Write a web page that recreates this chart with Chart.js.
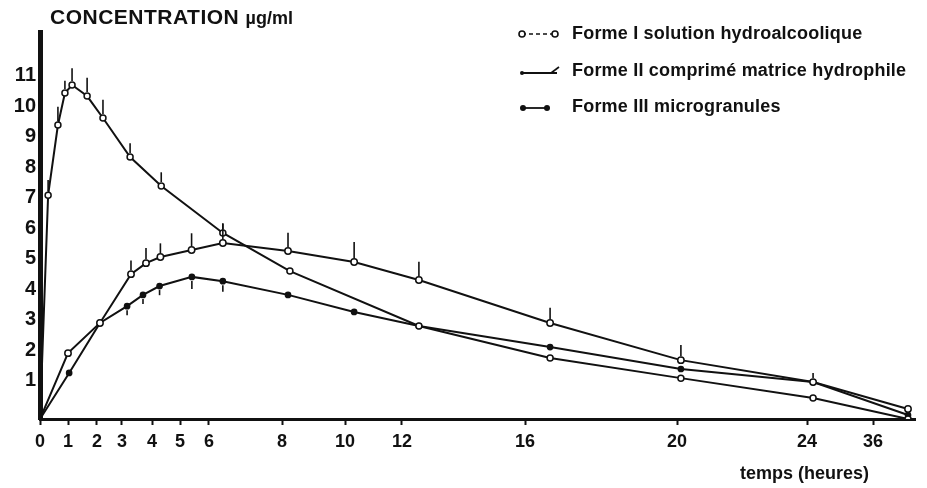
<!DOCTYPE html>
<html>
<head>
<meta charset="utf-8">
<script src="https://cdn.jsdelivr.net/npm/chart.js@4.4.0/dist/chart.umd.min.js"></script>
<style>
  body { margin:0; background:#fff; }
  #wrap { position:relative; width:927px; height:488px; font-family:'Liberation Sans', 'DejaVu Sans', sans-serif; color:#111; }
  #wrap canvas { position:absolute; left:0; top:0; }
  .ttl { position:absolute; left:50px; top:5px; font-size:21px; font-weight:bold; letter-spacing:0.5px; white-space:nowrap; }
  .ttl small { font-size:18px; letter-spacing:0; }
  .leg { position:absolute; left:517px; white-space:nowrap; font-size:18px; font-weight:bold; letter-spacing:0.2px; line-height:20px; }
  .leg svg { position:absolute; left:0; top:4px; }
  .leg span { position:absolute; left:55px; top:0; }
  .xt { position:absolute; left:740px; top:463px; font-size:18px; font-weight:bold; white-space:nowrap; }
</style>
</head>
<body>
<div id="wrap">
  <canvas id="c" width="927" height="488"></canvas>
  <div class="ttl">CONCENTRATION <small>µg/ml</small></div>
  <div class="leg" style="top:23px"><svg width="45" height="14"><line x1="5" y1="7" x2="38" y2="7" stroke="#111" stroke-width="1.6" stroke-dasharray="4,3"/><circle cx="5" cy="7" r="3" fill="#fff" stroke="#111" stroke-width="1.6"/><circle cx="38" cy="7" r="3" fill="#fff" stroke="#111" stroke-width="1.6"/></svg><span>Forme I solution hydroalcoolique</span></div>
  <div class="leg" style="top:60px"><svg width="45" height="14"><line x1="5" y1="9" x2="40" y2="9" stroke="#111" stroke-width="1.8"/><circle cx="5" cy="9" r="2" fill="#111"/><line x1="34" y1="9" x2="42" y2="3" stroke="#111" stroke-width="1.6"/></svg><span>Forme II comprimé matrice hydrophile</span></div>
  <div class="leg" style="top:96px"><svg width="45" height="14"><line x1="6" y1="8" x2="30" y2="8" stroke="#111" stroke-width="1.8"/><circle cx="6" cy="8" r="3" fill="#111"/><circle cx="30" cy="8" r="3" fill="#111"/></svg><span>Forme III microgranules</span></div>
  <div class="xt">temps (heures)</div>
</div>
<script>
// DONNÉES
const hoursI    = [0, 0.29, 0.64, 0.89, 1.14, 1.66, 2.24, 3.27, 4.33, 6.38, 8.25, 12.55, 16.66, 20.12, 25.1, 48];
const formeI    = [0, 7.34, 9.64, 10.69, 10.95, 10.59, 9.87, 8.59, 7.64, 6.10, 4.85, 3.05, 2.00, 1.34, 0.69, 0];
const sdI       = [0, 0.5, 0.6, 0.4, 0.55, 0.6, 0.6, 0.45, 0.45, 0.3, 0, 0, 0, 0, 0, 0];

const hoursII   = [0, 1.0, 2.12, 3.3, 3.8, 4.3, 5.4, 6.38, 8.19, 10.32, 12.55, 16.66, 20.12, 25.1, 48];
const formeII   = [0, 2.16, 3.15, 4.75, 5.11, 5.31, 5.54, 5.77, 5.51, 5.15, 4.56, 3.15, 1.93, 1.21, 0.33];
const sdII      = [0, 0, 0, 0.45, 0.5, 0.45, 0.55, 0.65, 0.6, 0.65, 0.6, 0.5, 0.5, 0.3, 0];

const hoursIII  = [0, 1.04, 2.12, 3.17, 3.7, 4.27, 5.41, 6.38, 8.19, 10.32, 12.55, 16.66, 20.12, 25.1, 48];
const formeIII  = [0, 1.51, 3.15, 3.70, 4.07, 4.36, 4.66, 4.52, 4.07, 3.51, 3.05, 2.36, 1.64, 1.21, 0.13];
const sdIII     = [0, 0, 0, 0.3, 0.3, 0.3, 0.4, 0.35, 0, 0, 0, 0, 0, 0, 0];

const xTickHours = [0, 1, 2, 3, 4, 5, 6, 8, 10, 12, 16, 20, 24, 36];
const yTicks     = [1, 2, 3, 4, 5, 6, 7, 8, 9, 10, 11];

// échelle des temps irrégulière de l'original (heure -> fraction de l'axe)
const stopHours = [0, 1, 2, 3, 4, 5, 6, 8, 10, 12, 16, 20, 24, 36, 48, 50];
const stopFrac  = [0, .032, .0651, .0937, .128, .16, .1931, .2766, .3486, .4137, .5543, .728, .8766, .952, .992, 1];

function warp(v) {
  if (v <= stopHours[0]) return stopFrac[0];
  for (let i = 1; i < stopHours.length; i++) {
    if (v <= stopHours[i]) {
      const t = (v - stopHours[i-1]) / (stopHours[i] - stopHours[i-1]);
      return stopFrac[i-1] + t * (stopFrac[i] - stopFrac[i-1]);
    }
  }
  return 1;
}
function unwarp(f) {
  for (let i = 1; i < stopFrac.length; i++) {
    if (f <= stopFrac[i]) {
      const t = (f - stopFrac[i-1]) / (stopFrac[i] - stopFrac[i-1]);
      return stopHours[i-1] + t * (stopHours[i] - stopHours[i-1]);
    }
  }
  return stopHours[stopHours.length-1];
}

class StopScale extends Chart.LinearScale {
  getPixelForValue(v) { return this.left + warp(v) * this.width; }
  getValueForPixel(p) { return unwarp((p - this.left) / this.width); }
}
StopScale.id = 'stops';
StopScale.defaults = {};
Chart.register(StopScale);

const pts = (xs, ys) => xs.map((x, i) => ({ x, y: ys[i] }));

// barres d'erreur (écart-type), vers le haut ou vers le bas
const errorBars = {
  id: 'errorBars',
  afterDatasetsDraw(chart) {
    const { ctx, scales: { x, y } } = chart;
    chart.data.datasets.forEach(ds => {
      if (!ds.sd) return;
      ctx.save();
      ctx.strokeStyle = '#111'; ctx.lineWidth = 1.6;
      ds.data.forEach((p, j) => {
        const s = ds.sd[j]; if (!s) return;
        const px = x.getPixelForValue(p.x);
        ctx.beginPath();
        ctx.moveTo(px, y.getPixelForValue(p.y) + (ds.sdDir > 0 ? -4 : 4));
        ctx.lineTo(px, y.getPixelForValue(p.y + ds.sdDir * s));
        ctx.stroke();
      });
      ctx.restore();
    });
  }
};

const ink = '#111';
const common = { borderColor: ink, borderWidth: 2, tension: 0, pointBorderColor: ink, pointBorderWidth: 1.5,
  pointRadius: c => (c.raw && c.raw.x === 0) ? 0 : 3 };

new Chart(document.getElementById('c'), {
  type: 'line',
  data: { datasets: [
    { ...common, label: 'Forme I solution hydroalcoolique', data: pts(hoursI, formeI), sd: sdI, sdDir: 1, pointBackgroundColor: '#fff' },
    { ...common, label: 'Forme II comprimé matrice hydrophile', data: pts(hoursII, formeII), sd: sdII, sdDir: 1, pointBackgroundColor: '#fff', pointRadius: c => (c.raw && c.raw.x === 0) ? 0 : 3.2 },
    { ...common, label: 'Forme III microgranules', data: pts(hoursIII, formeIII), sd: sdIII, sdDir: -1, pointBackgroundColor: ink, pointRadius: c => (c.raw && c.raw.x === 0) ? 0 : 2.6 }
  ]},
  options: {
    responsive: false, animation: false,
    layout: { padding: { top: 32, right: 12, bottom: 0, left: 0 } },
    plugins: { legend: { display: false }, tooltip: { enabled: false } },
    scales: {
      x: { type: 'stops', min: 0, max: 50,
        afterBuildTicks: s => { s.ticks = xTickHours.map(v => ({ value: v })); },
        afterFit: s => { s.height = 69; },
        grid: { drawOnChartArea: false, drawTicks: true, tickLength: 6, tickWidth: 2, tickColor: ink },
        border: { display: true, color: ink, width: 3 },
        ticks: { autoSkip: false, maxRotation: 0, padding: 6, color: ink, font: { family: "'Liberation Sans', sans-serif", size: 18, weight: 'bold' }, callback: v => String(v) } },
      y: { type: 'linear', min: 0, max: 12.69,
        afterBuildTicks: s => { s.ticks = yTicks.map(v => ({ value: v })); },
        afterFit: s => { s.width = 40; },
        grid: { drawOnChartArea: false, drawTicks: false },
        border: { display: true, color: ink, width: 5 },
        ticks: { padding: 4, labelOffset: -8, color: ink, font: { family: "'Liberation Sans', sans-serif", size: 20, weight: 'bold' }, callback: v => String(v) } }
    }
  },
  plugins: [errorBars]
});
</script>
</body>
</html>
